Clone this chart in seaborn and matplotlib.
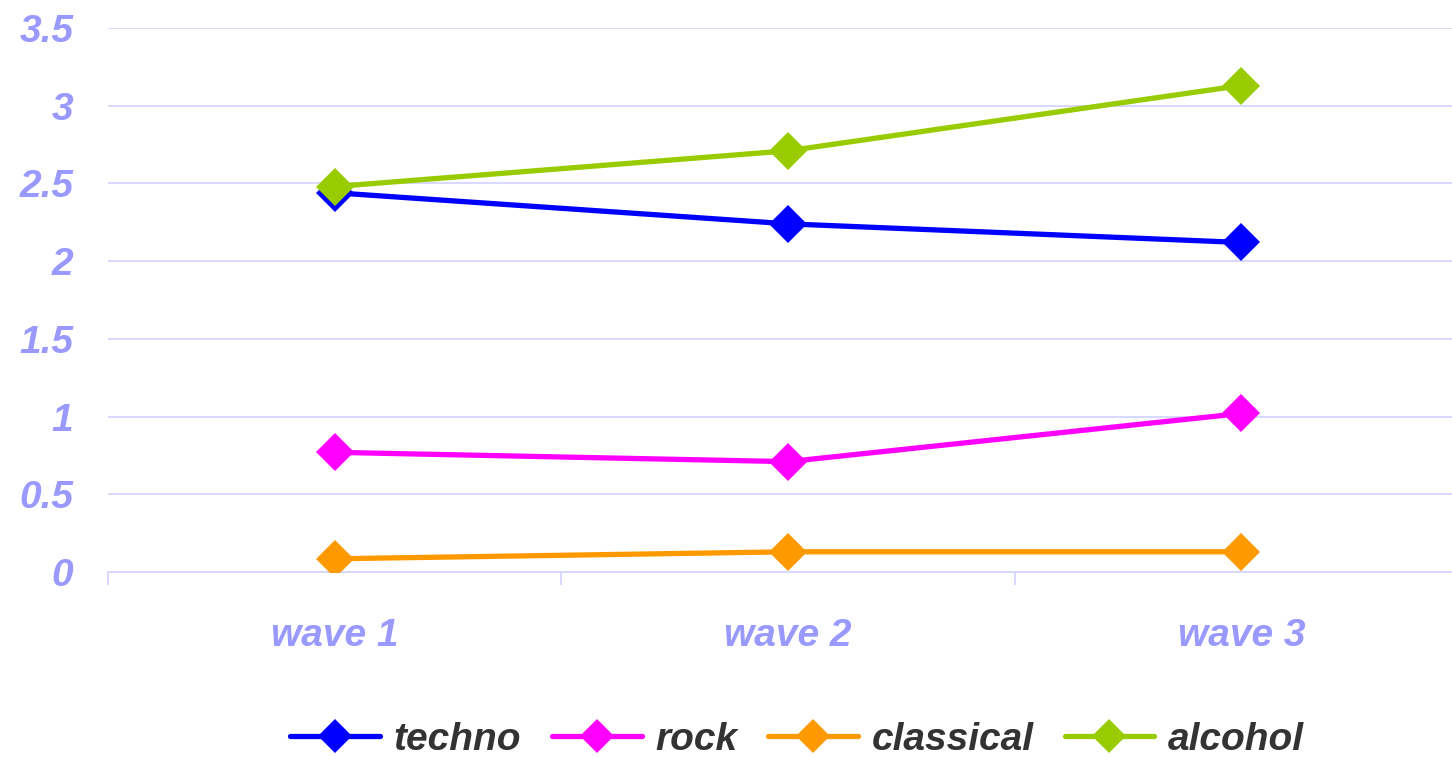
import matplotlib
matplotlib.use("Agg")
import matplotlib.pyplot as plt
from matplotlib.lines import Line2D
from matplotlib.ticker import FixedLocator
import pandas as pd
import seaborn as sns

# Data
waves = ["wave 1", "wave 2", "wave 3"]
techno = [2.44, 2.24, 2.12]
rock = [0.77, 0.71, 1.02]
classical = [0.085, 0.13, 0.13]
alcohol = [2.48, 2.71, 3.13]
series_names = ["techno", "rock", "classical", "alcohol"]
y_ticks = [0, 0.5, 1, 1.5, 2, 2.5, 3, 3.5]
y_tick_labels = ["0", "0.5", "1", "1.5", "2", "2.5", "3", "3.5"]

colors = {"techno": "#0000FF", "rock": "#FF00FF",
          "classical": "#FF9900", "alcohol": "#99CC00"}
grid_color = "#D2D2FF"
tick_color = "#9999FF"
legend_text_color = "#333333"

sns.set_style("white")
plt.rcParams["font.family"] = ["Liberation Sans", "DejaVu Sans"]

rows = []
for name, vals in zip(series_names, [techno, rock, classical, alcohol]):
    for i, (w, v) in enumerate(zip(waves, vals)):
        rows.append({"pos": i, "wave": w, "value": v, "series": name})
df = pd.DataFrame(rows)

fig = plt.figure(figsize=(14.52, 7.57), dpi=100)
ax = fig.add_axes([108 / 1452, 185 / 757, 1360 / 1452, 544 / 757])

sns.lineplot(data=df, x="pos", y="value", hue="series", hue_order=series_names,
             palette=colors, marker="D", markersize=19, markeredgewidth=0,
             linewidth=3.8, sort=False, legend=False, ax=ax, zorder=3)

ax.set_xlim(-0.5, 2.5)
ax.set_ylim(0, 3.5)
ax.set_xlabel("")
ax.set_ylabel("")

# Horizontal gridlines
for y in y_ticks[1:]:
    ax.axhline(y, color=grid_color, linewidth=1.2, zorder=1)

for side in ["top", "right", "left"]:
    ax.spines[side].set_visible(False)
ax.spines["bottom"].set_color(grid_color)
ax.spines["bottom"].set_linewidth(1.2)

label_font = dict(fontsize=28, fontweight="bold", fontstyle="italic",
                  color=tick_color)
ax.set_yticks(y_ticks)
ax.set_yticklabels(y_tick_labels, **label_font)
ax.set_xticks(range(len(waves)))
ax.set_xticklabels(waves, **label_font)
ax.xaxis.set_minor_locator(FixedLocator([-0.5, 0.5, 1.5, 2.5]))
ax.tick_params(axis="x", which="major", bottom=False, length=0, pad=33)
ax.tick_params(axis="x", which="minor", bottom=True, length=9, width=1.2,
               color=grid_color, direction="out")
ax.tick_params(axis="y", left=False, length=0, pad=25)

handles = [Line2D([0], [0], color=colors[n], linewidth=3.8, marker="D",
                  markersize=17, markeredgewidth=0) for n in series_names]
leg = fig.legend(handles, series_names, loc="center", ncol=4,
                 bbox_to_anchor=(797 / 1452, 1 - 740 / 757), frameon=False,
                 handlelength=2.3, handletextpad=0.35, columnspacing=0.8,
                 prop={"family": "Liberation Sans", "size": 28,
                       "weight": "bold", "style": "italic"})
for t in leg.get_texts():
    t.set_color(legend_text_color)

fig.savefig("out.png", dpi=100)
